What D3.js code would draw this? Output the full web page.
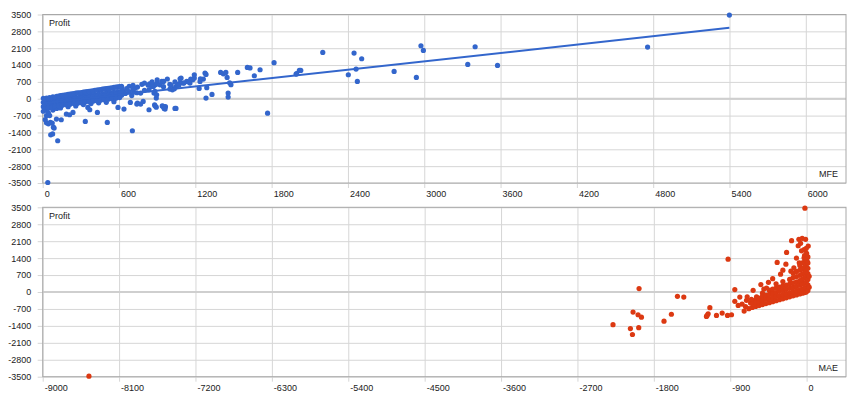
<!DOCTYPE html>
<html><head><meta charset="utf-8">
<script src="https://cdn.jsdelivr.net/npm/d3@7/dist/d3.min.js"></script>
<style>
body{margin:0;background:#fff;}
text{font-family:Arial,"Liberation Sans",sans-serif;}
</style>
</head><body>
<svg id="chart" width="860" height="400"></svg>
<script>
// ---------- data ----------
const profitTicks = [-3500,-2800,-2100,-1400,-700,0,700,1400,2100,2800,3500];
const mfeTicks = [0,600,1200,1800,2400,3000,3600,4200,4800,5400,6000];
const maeTicks = [-9000,-8100,-7200,-6300,-5400,-4500,-3600,-2700,-1800,-900,0];
const mfeDomain = [0, 6316];
const maeDomain = [-9000, 464];
const profitDomain = [-3500, 3500];

// trendline endpoints (MFE, Profit)
const trendMFE = [0, 5399];
const trendProfit = [-185, 2946];

// MFE vs Profit
const mfeProfit = [
 [40,-3480],[118,-1745],[63,-1500],[78,-1460],[90,-1218],[84,-1180],
 [30,-1000],[45,-1040],[60,-985],[75,-1010],[20,-870],[108,-845],[146,-872],
 [186,-635],[211,-665],[238,-568],[335,-942],[370,-457],[355,-360],[430,-568],[508,-984],
 [592,-360],[639,-428],[705,-1330],[689,-152],[745,-180],[790,-110],[836,-457],[880,-250],[893,29],
 [745,486],[770,235],[725,444],[715,278],[840,623],[870,510],[885,580],[836,374],[875,235],
 [770,-220],[740,-220],[883,-291],[940,-300],[955,-400],[965,-330],[1048,-402],[947,-320],[962,-430],[1040,-400],[893,-350],
 [1284,29],[1331,180],[1458,70],[1458,235],[1768,-600],[1819,1500],[1997,1040],[2018,1175],
 [1609,1300],[1630,1280],[1709,1205],[1664,955],[1533,1093],
 [1399,1093],[1420,1037],[1440,1093],[1450,885],[1470,664],[1480,582],
 [1276,1066],[1263,818],[1192,997],[1192,858],[1237,720],[1164,818],[1158,651],[1132,720],[1106,652],[1088,858],[1080,652],
 [1050,500],[1035,420],[1020,370],[1060,600],[1010,560],
 [936,720],[923,580],[870,580],[857,510],[882,305],[896,166],
 [1284,1010],[1240,830],[1150,700],[1180,790],[1080,830],[1110,655],[1040,700],[1070,560],[1230,430],[1290,460],
 [1992,1026],[2029,1176],[2202,1924],[2403,997],[2448,1898],[2464,1234],[2474,720],[2508,1662],[2763,1134],
 [2938,885],[2974,2202],[2993,2007],[3342,1426],[3400,2160],[3576,1384],[4756,2147],[5399,3477],
 [620,480],[650,220],[680,520],[680,300],[700,130],[710,560],[710,400],[740,250],[780,600],[800,650],[800,350],
 [830,560],[860,700],[900,620],[900,780],[950,720],[950,500],[980,820],[1000,600],[1000,400],[600,150],[630,330],[660,420],
 [5,20],[5,-150],[5,-330],[5,-520],[30,30],[30,-120],[30,-300],[30,-480],[30,-700],
 [55,50],[55,-140],[55,-320],[55,-700],[80,80],[80,-90],[80,-260],[80,-470],
 [110,100],[110,-60],[110,-220],[110,-400],[140,130],[140,-30],[140,-200],[140,-380],
 [170,150],[170,0],[170,-180],[200,180],[200,20],[200,-160],[200,-330],
 [230,200],[230,40],[230,-130],[260,230],[260,60],[260,-120],[260,-300],
 [290,250],[290,80],[290,-100],[320,280],[320,110],[320,-80],[320,-240],
 [350,300],[350,130],[350,-60],[380,320],[380,150],[380,-40],[380,-200],
 [410,350],[410,170],[410,-20],[440,370],[440,190],[440,10],[440,-170],
 [470,400],[470,210],[470,30],[500,420],[500,240],[500,50],[500,-150],
 [530,440],[530,260],[530,80],[560,470],[560,280],[560,100],[560,-120],
 [590,490],[590,300],[590,130],[620,520],[620,330],[620,150],
 [15,-60],[15,-240],[15,-420],[45,20],[45,-210],[45,-390],[45,-600],[70,-40],[70,-180],[70,-360],
 [95,60],[95,-150],[95,-310],[125,110],[125,-120],[125,-290],[155,140],[155,-90],[155,-270],
 [185,160],[185,-80],[185,-250],[215,190],[215,-60],[215,-230],[245,210],[245,-40],[245,-200],
 [275,240],[275,-10],[275,-190],[305,260],[305,30],[305,-170],[335,290],[335,40],[335,-140],
 [365,310],[365,60],[365,-120],[395,330],[395,80],[395,-100],[425,360],[425,100],[425,-80],
 [455,380],[455,110],[455,-60],[485,410],[485,130],[485,-40],[515,430],[515,150],[515,-20],
 [545,450],[545,170],[545,0],[575,480],[575,200],[575,20],[605,500],[605,230],[605,50]
];

// MAE vs Profit
const maeProfit = [
 [-8455,-3480],
 [-2281,-1350],[-2076,-1510],[-2052,-1757],[-1978,-1475],[-2045,-831],[-1986,-940],[-1946,-1039],[-1974,141],
 [-1680,-1204],[-1593,-920],[-1522,-179],[-1447,-208],
 [-1180,-1010],[-1160,-898],[-1140,-648],[-1172,-968],[-1062,-968],[-995,-872],[-932,-968],[-885,-940],[-925,1358],
 [-846,100],[-846,-387],[-787,-208],[-806,-553],[-736,-788],[-708,-345],[-681,-690],[-630,70],[-610,-345],
 [-559,-415],[-539,307],[-504,125],[-472,166],[-433,58],[-760,-500],[-720,-600],[-700,-200],[-660,-450],
 [-650,-300],[-590,-200],[-580,-520],[-520,-50],
 [-20,3465],[-177,2119],[-91,2177],[-52,2218],[-12,2177],[19,1898],[-99,1911],[-71,2010],[-236,1636],
 [-347,1221],[-244,1150],[-12,1483],[-30,1413],[5,1275],[-307,735],[-185,860],[-87,1205],
 [-120,1400],[-60,1700],[-30,1750],[0,1600],[-150,1000],[-280,900],[-400,550],[-450,400],
 [-640,-640],[-640,-480],[-600,-600],[-600,-430],[-560,-560],[-560,-400],[-560,-250],
 [-520,-520],[-520,-350],[-520,-180],[-480,-480],[-480,-300],[-480,-130],
 [-440,-440],[-440,-270],[-440,-100],[-440,80],[-400,-400],[-400,-230],[-400,-60],[-400,120],
 [-360,-360],[-360,-190],[-360,-20],[-360,160],[-360,340],[-320,-320],[-320,-150],[-320,30],[-320,200],
 [-280,-280],[-280,-110],[-280,70],[-280,250],[-280,430],[-240,-240],[-240,-70],[-240,110],[-240,290],
 [-200,-200],[-200,-30],[-200,150],[-200,330],[-200,520],
 [-160,-160],[-160,10],[-160,190],[-160,380],[-160,600],[-160,780],
 [-120,-120],[-120,50],[-120,230],[-120,420],[-120,640],[-120,850],
 [-80,-80],[-80,90],[-80,280],[-80,470],[-80,690],[-80,900],[-80,1100],
 [-50,-50],[-50,120],[-50,320],[-50,520],[-50,740],[-50,960],[-50,1200],
 [-25,-25],[-25,150],[-25,360],[-25,580],[-25,800],[-25,1020],[-25,1250],[-25,1500],
 [-5,-5],[-5,180],[-5,400],[-5,620],[-5,850],[-5,1080],[-5,1320],[-5,1560],[-5,1800],
 [15,60],[15,300],[15,520],[15,760],[15,980],[15,1200],[15,1450],[30,200],[30,650]
];

// ---------- drawing ----------
const svg = d3.select("#chart");
const left = 42.7, right = 846;
const gridColor = "#d6d6d6", borderColor = "#a8a8a8", textColor = "#222";
const fmt = d => String(d);

function panel(top, bottom, xDomain, xTicks, data, color, xName, trend) {
  const x = d3.scaleLinear().domain(xDomain).range([left, right]);
  const y = d3.scaleLinear().domain(profitDomain).range([bottom, top]);
  const g = svg.append("g");

  // horizontal grid + left ticks
  const yAxis = d3.axisLeft(y).tickValues(profitTicks).tickSize(5).tickFormat(fmt);
  g.append("g").attr("transform", `translate(${left},0)`)
    .call(yAxis)
    .call(a => a.select(".domain").remove())
    .call(a => a.selectAll("line").attr("stroke", gridColor).attr("x2", -5).attr("x1", right - left))
    .call(a => a.selectAll("text").attr("fill", textColor).style("font-size", "9px")
        .attr("x", -11.5));

  // vertical grid + bottom ticks
  const xAxis = d3.axisBottom(x).tickValues(xTicks).tickSize(5).tickFormat(fmt);
  g.append("g").attr("transform", `translate(0,${bottom})`)
    .call(xAxis)
    .call(a => a.select(".domain").remove())
    .call(a => a.selectAll("line").attr("stroke", gridColor).attr("y1", top - bottom).attr("y2", 5))
    .call(a => a.selectAll("text").attr("fill", textColor).style("font-size", "9px")
        .attr("text-anchor", "start").attr("x", 1.5).attr("y", 8));

  // zero line
  g.append("line").attr("x1", left).attr("x2", right)
    .attr("y1", y(0)).attr("y2", y(0)).attr("stroke", "#cfcfcf").attr("stroke-width", 2);

  // frame
  g.append("rect").attr("x", left).attr("y", top).attr("width", right - left).attr("height", bottom - top)
    .attr("fill", "none").attr("stroke", borderColor).attr("stroke-width", 1);

  // points
  g.append("g").selectAll("circle").data(data).join("circle")
    .attr("cx", d => x(d[0])).attr("cy", d => y(d[1])).attr("r", 2.6).attr("fill", color);

  if (trend) {
    g.append("line").attr("x1", x(trend[0][0])).attr("y1", y(trend[1][0]))
      .attr("x2", x(trend[0][1])).attr("y2", y(trend[1][1]))
      .attr("stroke", color).attr("stroke-width", 2);
  }

  g.append("text").attr("x", 49).attr("y", top + 11.5).attr("fill", textColor)
    .style("font-size", "9px").text("Profit");
  g.append("text").attr("x", 838).attr("y", bottom - 6).attr("fill", textColor)
    .attr("text-anchor", "end").style("font-size", "9px").text(xName);
}

panel(14.5, 183, mfeDomain, mfeTicks, mfeProfit, "#3366cc", "MFE", [trendMFE, trendProfit]);
panel(207.3, 376.7, maeDomain, maeTicks, maeProfit, "#dc3912", "MAE", null);
</script>
</body></html>
